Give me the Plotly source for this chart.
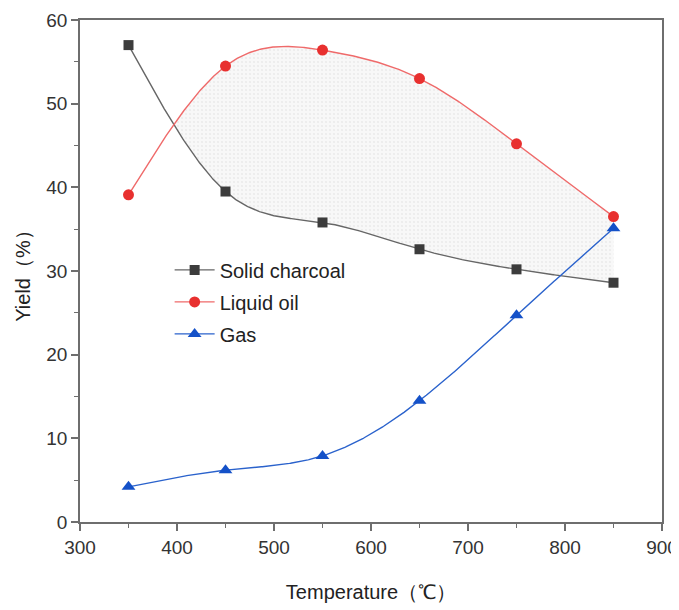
import numpy as np
import plotly.graph_objects as go

temperature = [350, 450, 550, 650, 750, 850]
solid_charcoal = [57.0, 39.5, 35.8, 32.6, 30.2, 28.6]
liquid_oil = [39.1, 54.5, 56.4, 53.0, 45.2, 36.5]
gas = [4.2, 6.2, 7.9, 14.5, 24.7, 35.1]
x_ticks = [300, 400, 500, 600, 700, 800, 900]
y_ticks = [0, 10, 20, 30, 40, 50, 60]


def natural_spline(x, y, xs):
    x = np.asarray(x, float)
    y = np.asarray(y, float)
    n = len(x)
    h = np.diff(x)
    A = np.zeros((n, n))
    b = np.zeros(n)
    A[0, 0] = 1
    A[-1, -1] = 1
    for i in range(1, n - 1):
        A[i, i - 1] = h[i - 1]
        A[i, i] = 2 * (h[i - 1] + h[i])
        A[i, i + 1] = h[i]
        b[i] = 6 * ((y[i + 1] - y[i]) / h[i] - (y[i] - y[i - 1]) / h[i - 1])
    M = np.linalg.solve(A, b)
    out = np.empty_like(xs)
    for k, xv in enumerate(xs):
        i = min(max(np.searchsorted(x, xv) - 1, 0), n - 2)
        t1 = x[i + 1] - xv
        t0 = xv - x[i]
        out[k] = (M[i] * t1 ** 3 + M[i + 1] * t0 ** 3) / (6 * h[i]) \
            + (y[i] / h[i] - M[i] * h[i] / 6) * t1 \
            + (y[i + 1] / h[i] - M[i + 1] * h[i] / 6) * t0
    return out


xs = np.linspace(temperature[0], temperature[-1], 501)
sc_s = natural_spline(temperature, solid_charcoal, xs)
lo_s = natural_spline(temperature, liquid_oil, xs)
gas_s = natural_spline(temperature, gas, xs)

# region where liquid oil lies above solid charcoal
mask = lo_s >= sc_s
start = np.argmax(mask)
fx = np.concatenate([xs[start:], xs[start:][::-1]])
fy = np.concatenate([lo_s[start:], sc_s[start:][::-1]])

series = [
    ("Solid charcoal", solid_charcoal, sc_s, "#666666", "#3c3c3c", "square", 10),
    ("Liquid oil", liquid_oil, lo_s, "#ef6a6a", "#e8302f", "circle", 11),
    ("Gas", gas, gas_s, "#2a62cc", "#1451c8", "triangle-up", 12),
]

fig = go.Figure()
fig.add_trace(go.Scatter(
    x=fx, y=fy, mode="lines", fill="toself",
    fillcolor="rgba(245,245,245,1)",
    fillpattern=dict(shape=".", size=4, solidity=0.12,
                     fgcolor="#c4c4c4", bgcolor="rgba(248,248,248,1)"),
    line=dict(width=0), showlegend=False, hoverinfo="skip"))

for name, vals, smooth, lc, mc, sym, ms in series:
    fig.add_trace(go.Scatter(x=xs, y=smooth, mode="lines",
                             line=dict(color=lc, width=1.4),
                             showlegend=False, hoverinfo="skip"))
    fig.add_trace(go.Scatter(x=temperature, y=vals, mode="markers",
                             marker=dict(symbol=sym, size=ms, color=mc),
                             showlegend=False, name=name))
    fig.add_trace(go.Scatter(x=[None], y=[None], mode="lines+markers",
                             name=name, legendgroup=name,
                             line=dict(color=lc, width=1.4),
                             marker=dict(symbol=sym, size=ms, color=mc)))

axis_common = dict(
    showline=True, linecolor="#6e6e6e", linewidth=1.5, mirror=True,
    ticks="outside", ticklen=7, tickwidth=1.5, tickcolor="#6e6e6e",
    showgrid=False, zeroline=False, automargin=False,
    tickfont=dict(family="Liberation Sans, Arial", size=19, color="#333333"),
)

fig.update_xaxes(range=[300, 900], tickvals=x_ticks,
                 minor=dict(dtick=50, ticks="outside", ticklen=4,
                            tickwidth=1.2, tickcolor="#6e6e6e"),
                 title=dict(text="Temperature（℃）", standoff=28,
                            font=dict(family="Liberation Sans, Arial", size=20,
                                      color="#222222")),
                 **axis_common)
fig.update_yaxes(range=[0, 60], tickvals=y_ticks,
                 minor=dict(dtick=5, ticks="outside", ticklen=4,
                            tickwidth=1.2, tickcolor="#6e6e6e"),
                 title=dict(text="Yield（%）", standoff=10,
                            font=dict(family="Liberation Sans, Arial", size=20,
                                      color="#222222")),
                 **axis_common)

fig.update_layout(
    width=671, height=602,
    margin=dict(l=72, r=17, t=12, b=88),
    plot_bgcolor="white", paper_bgcolor="white",
    legend=dict(x=0.154, y=0.541, xanchor="left", yanchor="top",
                itemwidth=40,
                bgcolor="rgba(0,0,0,0)", tracegroupgap=3,
                font=dict(family="Liberation Sans, Arial", size=20,
                          color="#222222")),
)

fig.write_html("out.html")
